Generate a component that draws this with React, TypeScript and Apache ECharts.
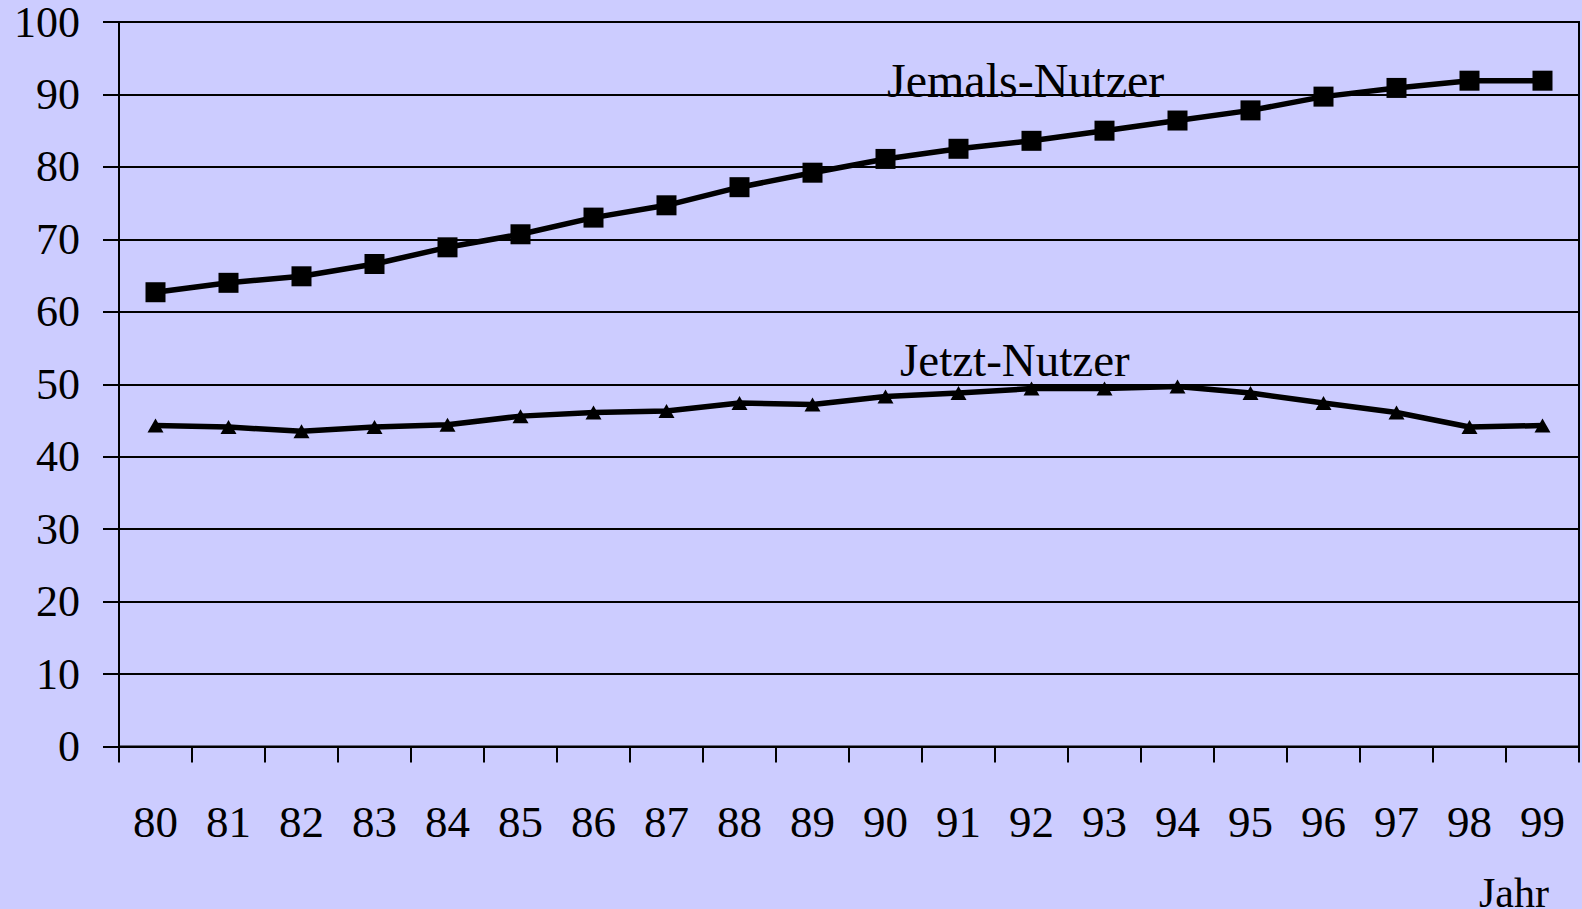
import React, { useEffect, useRef } from "react";
import * as echarts from "echarts";

const years = ["80","81","82","83","84","85","86","87","88","89","90","91","92","93","94","95","96","97","98","99"];
const jemalsNutzer = [62.7, 64.0, 64.9, 66.6, 68.9, 70.7, 73.0, 74.7, 77.2, 79.2, 81.1, 82.5, 83.6, 85.0, 86.4, 87.8, 89.7, 90.9, 91.9, 91.9];
const jetztNutzer = [44.3, 44.1, 43.5, 44.1, 44.4, 45.6, 46.1, 46.3, 47.4, 47.2, 48.3, 48.8, 49.4, 49.4, 49.7, 48.8, 47.4, 46.1, 44.1, 44.3];
const seriesNames = ["Jemals-Nutzer", "Jetzt-Nutzer"];
const xAxisTitle = "Jahr";

const FONT = "'Liberation Serif', 'Times New Roman', serif";

export default function App() {
  const ref = useRef<HTMLDivElement>(null);
  useEffect(() => {
    if (!ref.current) return;
    const chart = echarts.init(ref.current, null, { renderer: "svg" });
    chart.setOption({
      animation: false,
      backgroundColor: "#CCCCFF",
      grid: {
        left: 119,
        top: 21,
        right: 3,
        bottom: 162.5,
        show: true,
        borderColor: "#000",
        borderWidth: 2,
        backgroundColor: "transparent",
      },
      xAxis: {
        type: "category",
        data: years,
        boundaryGap: true,
        axisLine: { show: true, lineStyle: { color: "#000", width: 2 } },
        axisTick: { show: true, length: 16, interval: 0, lineStyle: { color: "#000", width: 2 } },
        axisLabel: { interval: 0, margin: 53, fontSize: 45, fontFamily: FONT, color: "#000" },
        splitLine: { show: false },
      },
      yAxis: {
        type: "value",
        min: 0,
        max: 100,
        interval: 10,
        axisLine: { show: true, lineStyle: { color: "#000", width: 2 } },
        axisTick: { show: true, length: 16, lineStyle: { color: "#000", width: 2 } },
        axisLabel: { margin: 39, fontSize: 44, lineHeight: 34, fontFamily: FONT, color: "#000" },
        splitLine: { show: true, lineStyle: { color: "#000", width: 2 } },
      },
      series: [
        {
          name: seriesNames[0],
          type: "line",
          data: jemalsNutzer,
          symbol: "rect",
          symbolSize: 20,
          itemStyle: { color: "#000" },
          lineStyle: { color: "#000", width: 5.5 },
          z: 3,
        },
        {
          name: seriesNames[1],
          type: "line",
          data: jetztNutzer,
          symbol: "triangle",
          symbolSize: [16, 14],
          itemStyle: { color: "#000" },
          lineStyle: { color: "#000", width: 5.5 },
          z: 3,
        },
      ],
      graphic: [
        {
          type: "text",
          left: 887,
          top: 56,
          z: 10,
          style: { text: seriesNames[0], font: `48px ${FONT}`, fill: "#000" },
        },
        {
          type: "text",
          left: 900,
          top: 336,
          z: 10,
          style: { text: seriesNames[1], font: `47px ${FONT}`, fill: "#000" },
        },
        {
          type: "text",
          left: 1479,
          top: 872,
          z: 10,
          style: { text: xAxisTitle, font: `42px ${FONT}`, fill: "#000" },
        },
      ],
    });
    return () => chart.dispose();
  }, []);
  return (
    <div
      ref={ref}
      style={{ position: "fixed", left: 0, top: 0, width: 1582, height: 909, background: "#CCCCFF" }}
    />
  );
}
